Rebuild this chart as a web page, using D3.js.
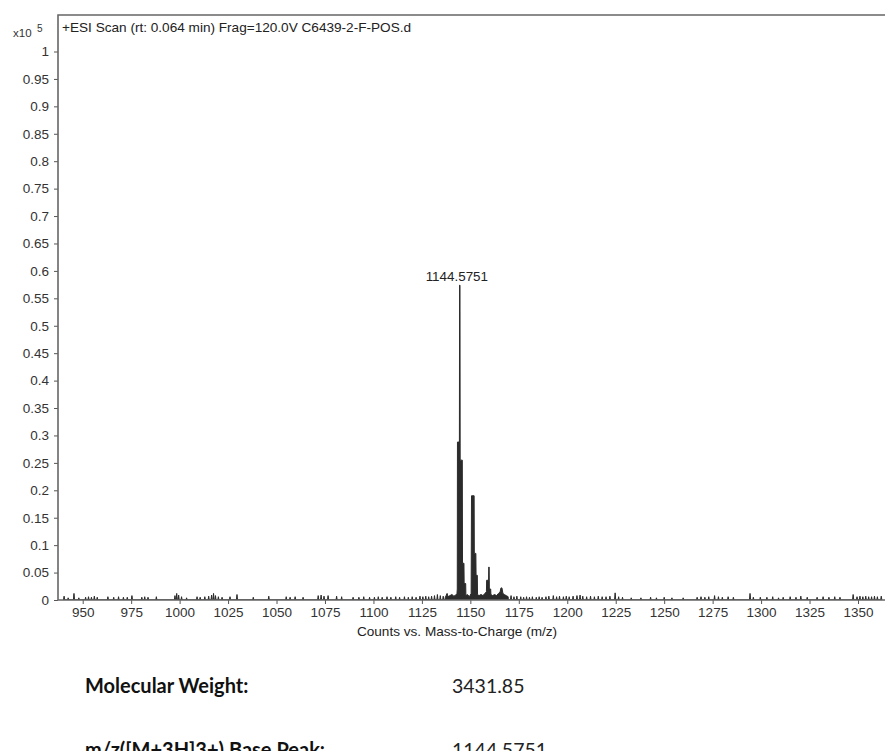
<!DOCTYPE html>
<html>
<head>
<meta charset="utf-8">
<script src="https://cdn.jsdelivr.net/npm/d3@7"></script>
<style>
  body { margin: 0; background: #fff; }
  svg { display: block; }
  .axis text { font-family: "Liberation Sans", Arial, sans-serif; font-size: 13.5px; fill: #333; }
  .axis line { stroke: #555; }
</style>
</head>
<body>
<div id="chart"></div>
<script>
// intensities in x10^5 counts
const yTicks = [0, 0.05, 0.1, 0.15, 0.2, 0.25, 0.3, 0.35, 0.4, 0.45, 0.5, 0.55, 0.6, 0.65, 0.7, 0.75, 0.8, 0.85, 0.9, 0.95, 1];
const yTickLabels = ["0", "0.05", "0.1", "0.15", "0.2", "0.25", "0.3", "0.35", "0.4", "0.45", "0.5", "0.55", "0.6", "0.65", "0.7", "0.75", "0.8", "0.85", "0.9", "0.95", "1"];
const xTicks = [950, 975, 1000, 1025, 1050, 1075, 1100, 1125, 1150, 1175, 1200, 1225, 1250, 1275, 1300, 1325, 1350];

// isotope clusters, profile points (m/z, intensity)
const clusterMz = [1136.9, 1137.0, 1138.0, 1138.5, 1139.5, 1140.5, 1141.5, 1142.5, 1143.1, 1143.25, 1143.35, 1144.35, 1144.45, 1144.65, 1144.75, 1145.85, 1145.95, 1146.7, 1146.8, 1147.6, 1147.7, 1148.5, 1149.5, 1150.4, 1150.6, 1151.95, 1152.05, 1152.85, 1152.95, 1153.6, 1153.7, 1154.5, 1155.5, 1156.5, 1157.5, 1158.3, 1158.4, 1159.4, 1159.5, 1159.7, 1159.8, 1160.5, 1160.6, 1161.5, 1162.5, 1163.5, 1164.5, 1165.3, 1165.8, 1166.3, 1166.8, 1167.5, 1168.5, 1169.5, 1169.6];
const clusterInt = [0, 0.004, 0.012, 0.006, 0.008, 0.01, 0.007, 0.009, 0.012, 0.02, 0.288, 0.288, 0.574, 0.574, 0.255, 0.255, 0.067, 0.067, 0.03, 0.03, 0.008, 0.01, 0.006, 0.012, 0.19, 0.19, 0.085, 0.085, 0.045, 0.045, 0.01, 0.008, 0.01, 0.008, 0.012, 0.015, 0.036, 0.036, 0.06, 0.06, 0.02, 0.02, 0.01, 0.008, 0.01, 0.008, 0.012, 0.014, 0.022, 0.022, 0.012, 0.01, 0.008, 0.006, 0];

// baseline noise spikes
const noiseMz = [940.4, 942.5, 945.5, 948, 951.5, 953, 954.5, 956, 957.5, 963, 966, 968.5, 971, 973, 975.4, 980.5, 982, 983.7, 988, 997.6, 998.5, 999.5, 1001, 1003.6, 1009, 1010.6, 1013, 1015, 1016.5, 1017.5, 1018.5, 1020, 1021.9, 1026, 1029.6, 1038, 1046, 1055, 1057, 1059.6, 1063.7, 1071.5, 1073, 1074.5, 1076.6, 1081, 1083.6, 1089.5, 1092.5, 1095, 1098, 1100.5, 1102.5, 1104.5, 1107, 1109, 1111.5, 1113.5, 1116, 1118, 1120, 1122, 1124, 1125.5, 1127, 1128.5, 1130, 1131.5, 1133, 1134.5, 1136,
  1171, 1172.5, 1174, 1176, 1177.5, 1179, 1180.5, 1182, 1184, 1185.5, 1187, 1189, 1190.5, 1192.8, 1194.5, 1196, 1198, 1199.5, 1201, 1203, 1205, 1206.6, 1208, 1210, 1212, 1214, 1216, 1218, 1220, 1222, 1224.7, 1226.5, 1228.5, 1233, 1238, 1243, 1246, 1250, 1254, 1259.8, 1267, 1269, 1271, 1273, 1276, 1278, 1280, 1283, 1285.7, 1294.3, 1296, 1299.6, 1303, 1306, 1309, 1311.4, 1315, 1318, 1320.5, 1323.8, 1328.9, 1332, 1335, 1338, 1340.7, 1347.5, 1349.5, 1351, 1352.5, 1354, 1355.5, 1357, 1358.5, 1360, 1362];
const noiseInt = [0.007, 0.004, 0.012, 0.004, 0.005, 0.006, 0.005, 0.007, 0.005, 0.006, 0.005, 0.006, 0.005, 0.005, 0.008, 0.005, 0.006, 0.005, 0.006, 0.008, 0.012, 0.009, 0.006, 0.004, 0.006, 0.005, 0.006, 0.007, 0.009, 0.012, 0.008, 0.006, 0.005, 0.006, 0.01, 0.005, 0.007, 0.006, 0.005, 0.006, 0.005, 0.008, 0.009, 0.007, 0.008, 0.007, 0.006, 0.005, 0.005, 0.006, 0.005, 0.005, 0.006, 0.005, 0.006, 0.005, 0.006, 0.005, 0.006, 0.005, 0.006, 0.005, 0.007, 0.006, 0.007, 0.006, 0.007, 0.008, 0.01, 0.008, 0.007,
  0.008, 0.006, 0.007, 0.006, 0.005, 0.006, 0.005, 0.006, 0.005, 0.006, 0.005, 0.006, 0.007, 0.008, 0.006, 0.007, 0.006, 0.007, 0.006, 0.007, 0.008, 0.009, 0.007, 0.006, 0.007, 0.006, 0.007, 0.006, 0.006, 0.007, 0.013, 0.006, 0.005, 0.004, 0.004, 0.005, 0.004, 0.005, 0.004, 0.004, 0.005, 0.006, 0.005, 0.006, 0.008, 0.006, 0.005, 0.006, 0.005, 0.012, 0.005, 0.005, 0.005, 0.006, 0.004, 0.005, 0.006, 0.005, 0.007, 0.005, 0.005, 0.006, 0.005, 0.006, 0.005, 0.01, 0.006, 0.007, 0.006, 0.007, 0.006, 0.006, 0.007, 0.006, 0.007];

const basePeak = {mz: 1144.5751, intensity: 0.574};
const infoLabels = ["Molecular Weight:", "m/z([M+3H]3+) Base Peak:"];
const infoValues = ["3431.85", "1144.5751"];

var width = 885,
    height = 751,
    plot = {left: 58, top: 15, right: 885, bottom: 600};

var svg = d3.select("#chart")
    .append("svg")
    .attr("width", width)
    .attr("height", height);

var xScale = d3.scaleLinear().domain([950, 1350]).range([82.7, 858]);
var yScale = d3.scaleLinear().domain([0, 1]).range([plot.bottom, 51.5]);

// build one profile from clusters + noise spikes
var profile = clusterMz.map((m, i) => [m, clusterInt[i]]);
noiseMz.forEach((m, i) => {
    profile.push([m - 0.3, 0], [m, noiseInt[i]], [m + 0.3, 0]);
});
profile.sort((a, b) => a[0] - b[0]);

svg.append("clipPath").attr("id", "plotclip")
    .append("rect")
    .attr("x", plot.left).attr("y", plot.top)
    .attr("width", plot.right - plot.left).attr("height", plot.bottom - plot.top);

var area = d3.area()
    .x(d => xScale(d[0]))
    .y0(yScale(0))
    .y1(d => yScale(d[1]));

svg.append("path")
    .datum(profile)
    .attr("clip-path", "url(#plotclip)")
    .attr("d", area)
    .attr("fill", "#2b2b2b")
    .attr("stroke", "#2b2b2b")
    .attr("stroke-width", 1);

// Y axis
var yAxis = d3.axisLeft(yScale)
    .tickValues(yTicks)
    .tickFormat((d, i) => yTickLabels[i])
    .tickSize(4)
    .tickPadding(5)
    .tickSizeOuter(0);
var gy = svg.append("g")
    .attr("class", "axis")
    .attr("transform", `translate(${plot.left},0)`)
    .call(yAxis);
gy.select(".domain").remove();

// X axis
var xAxis = d3.axisBottom(xScale)
    .tickValues(xTicks)
    .tickFormat(d3.format("d"))
    .tickSize(4)
    .tickPadding(3)
    .tickSizeOuter(0);
var gx = svg.append("g")
    .attr("class", "axis")
    .attr("transform", `translate(0,${plot.bottom})`)
    .call(xAxis);
gx.select(".domain").remove();

// frame
svg.append("path")
    .attr("d", `M${plot.right},${plot.top}H${plot.left}V${plot.bottom}H${plot.right}`)
    .attr("fill", "none")
    .attr("stroke", "#666")
    .attr("stroke-width", 1.6);

// texts
var font = "'Liberation Sans', Arial, sans-serif";
svg.append("text").attr("x", 13).attr("y", 37)
    .style("font-family", font).style("font-size", "11.5px").style("fill", "#333")
    .text("x10");
svg.append("text").attr("x", 37).attr("y", 32)
    .style("font-family", font).style("font-size", "10px").style("fill", "#333")
    .text("5");
svg.append("text").attr("x", 62).attr("y", 32)
    .style("font-family", font).style("font-size", "13.6px").style("fill", "#222")
    .text("+ESI Scan (rt: 0.064 min) Frag=120.0V C6439-2-F-POS.d");

svg.append("text")
    .attr("x", xScale(basePeak.mz) - 3)
    .attr("y", yScale(basePeak.intensity) - 4)
    .attr("text-anchor", "middle")
    .style("font-family", font).style("font-size", "13.4px").style("fill", "#222")
    .text(basePeak.mz.toFixed(4));

svg.append("text")
    .attr("x", 457).attr("y", 636)
    .attr("text-anchor", "middle")
    .style("font-family", font).style("font-size", "13.6px").style("fill", "#222")
    .text("Counts vs. Mass-to-Charge (m/z)");

// info lines below the chart (second line runs off the bottom, as in the original)
infoLabels.forEach((t, i) => {
    var yy = 693 + i * 64;
    svg.append("text").attr("x", 85).attr("y", yy)
        .style("font-family", "Lato, 'Open Sans', sans-serif")
        .style("font-size", "20px").style("font-weight", "bold").style("fill", "#111")
        .text(t);
    svg.append("text").attr("x", 452).attr("y", yy)
        .style("font-family", "Lato, 'Open Sans', sans-serif")
        .style("font-size", "19.5px").style("fill", "#222")
        .text(infoValues[i]);
});
</script>
</body>
</html>
